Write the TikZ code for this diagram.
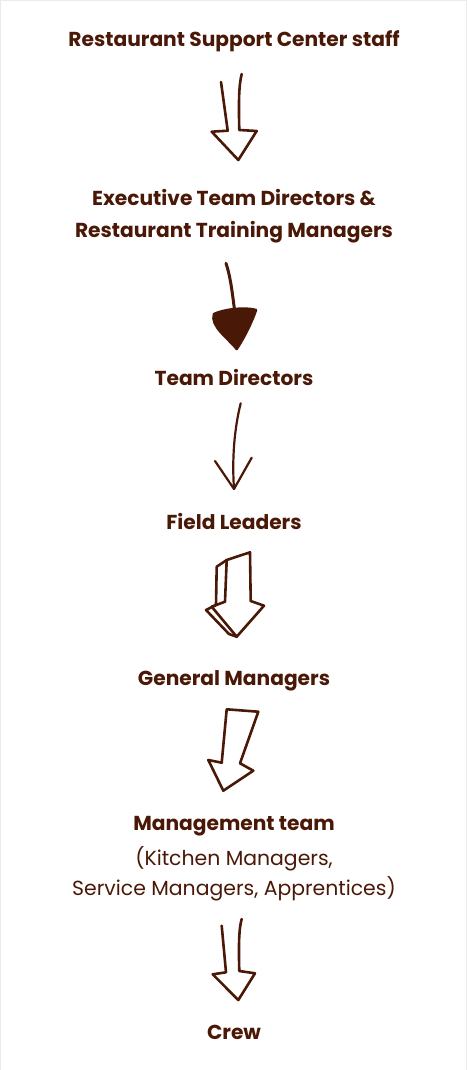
\documentclass[tikz,border=0pt]{standalone}
\usepackage{fontspec}
\setmainfont{Poppins}
\usepackage{tikz}
\usetikzlibrary{positioning,
                arrows.meta}                % arrow tips

\definecolor{brown}{RGB}{74,24,6}

\begin{document}
\begin{tikzpicture}[x=1pt, y=-1pt,
    level/.style={font=\bfseries\fontsize{20.2}{32}\selectfont, text=brown, align=center, inner sep=0pt},
    sub/.style={font=\fontsize{20.4}{30}\selectfont, text=brown, align=center, inner sep=0pt},
    sketch/.style={draw=brown, line width=2.6pt, line join=round, line cap=round}]

    \useasboundingbox (0,0) rectangle (466,1070);
    \draw[black!8, line width=1pt] (0.5,0.5) rectangle (466,1070);

    \node[level] (rsc) at (234,41) {Restaurant Support Center staff};
    \node[level] (etd) at (234,216) {Executive Team Directors \&\\Restaurant Training Managers};
    \node[level] (td) at (234,377) {Team Directors};
    \node[level] (fl) at (234,521) {Field Leaders};
    \node[level] (gm) at (234,681) {General Managers};
    \node[level] (mt) at (234,826) {Management team};
    \node[sub] (kit) at (234,874) {(Kitchen Managers,\\Service Managers, Apprentices)};
    \node[level] (crew) at (234,1032) {Crew};

    % open arrow
    \draw[sketch] (221,82) -- (227.7,130.7) -- (211.7,131.7) -- (238.3,160)
        -- (256.7,131) -- (239.3,130) .. controls (238.5,100) and (239,85) .. (241.7,74);

    % filled arrow
    \draw[sketch, line width=3pt] (226,263.3) .. controls (230,275) and (232,290) .. (234.3,308.3);
    \filldraw[sketch, fill=brown] (214,314) .. controls (225,309) and (245,307) .. (256,310)
        .. controls (252,322) and (244,338) .. (236.7,349) .. controls (228,338) and (210,326) .. cycle;

    % thin arrow
    \draw[sketch, line width=2.2pt] (240.7,403.3) .. controls (234,430) and (232,460) .. (234,489);
    \draw[sketch, line width=2.2pt] (215,461) -- (234,489) -- (251.7,457.7);

    % block arrow
    \draw[sketch] (226.7,560) -- (250,552.3) -- (250.7,601) -- (264,605.7) -- (236.7,636.7)
        -- (211.7,606.7) -- (225,601.7) -- cycle;
    \draw[sketch] (226.7,560) -- (216.7,566.7) -- (216,605) -- (206,610) -- (229,634) -- (236.7,636.7);

    % slanted arrow
    \draw[sketch] (226.7,709.3) -- (258.3,711.7) -- (240,763.3) -- (253.3,770.7) -- (223.3,790.7)
        -- (208.3,760) -- (221.7,762.7) -- cycle;

    % open arrow
    \draw[sketch] (221.7,925.7) -- (226,972.3) -- (212.7,974.3) -- (238.3,1000)
        -- (255,973.3) -- (239.3,971) .. controls (238.5,945) and (239,928) .. (241.7,919);

\end{tikzpicture}
\end{document}
